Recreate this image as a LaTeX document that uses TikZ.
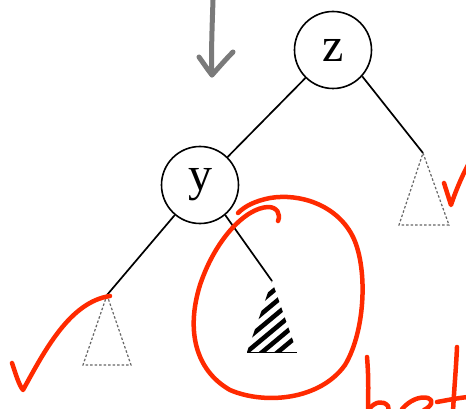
\documentclass[tikz,border=0pt]{standalone}
\usepackage{fontspec}
\setmainfont{Liberation Serif}
\definecolor{inkred}{HTML}{FF2A00}
\definecolor{pengray}{HTML}{7A7A7A}
\begin{document}
\begin{tikzpicture}[x=1pt,y=-1pt,
  treenode/.style={circle,draw=black,line width=1.6pt,minimum size=77pt,inner sep=0pt,
    font=\fontsize{48}{48}\selectfont},
  edge/.style={draw=black,line width=1.7pt},
  emptytree/.style={draw=black!60,line width=1.2pt,dash pattern=on 2.5pt off 2pt},
  redink/.style={draw=inkred,line width=4.5pt,line cap=round,line join=round},
  grayink/.style={draw=pengray,line width=5pt,line cap=round,line join=round}]
\useasboundingbox (0,0) rectangle (466,409);
\clip (0,0) rectangle (466,409);

% tree nodes
\node[treenode] (z) at (333,50) {z};
\node[treenode] (y) at (200,185) {y\vphantom{z}};

% subtree apexes
\coordinate (ra) at (423,153);
\coordinate (la) at (107,295);
\coordinate (ma) at (272,281);

% edges
\draw[edge] (z) -- (y);
\draw[edge] (z.-42) -- (ra);
\draw[edge] (y.-130) -- (la);
\draw[edge] (y.-50) -- (ma);

% empty subtrees
\draw[emptytree] (ra) -- (449,225) -- (399,225) -- cycle;
\draw[emptytree] (la) -- (131,365) -- (83,365) -- cycle;

% hatched subtree
\begin{scope}
  \clip (ma) -- (297,352) -- (247,352) -- cycle;
  \fill[white] (240,270) rectangle (300,360);
  \foreach \k in {0,...,9}{
    \draw[black,line width=4.6pt] (200,{300+\k*13}) -- (320,{200+\k*13});
  }
\end{scope}
\draw[black,line width=0.8pt] (247,352) -- (297,352);

% gray arrow
\draw[grayink] (213,0) .. controls (212,30) and (211,55) .. (212,75);
\draw[grayink] (199,57) .. controls (204,64) and (208,70) .. (212,75)
  .. controls (220,66) and (227,58) .. (233,52);

% red annotations
\draw[redink] (278,221) .. controls (281,214) and (277,207) .. (268,207)
  .. controls (245,208) and (215,240) .. (200,285)
  .. controls (186,330) and (195,370) .. (230,390)
  .. controls (265,405) and (320,400) .. (345,365)
  .. controls (366,330) and (368,265) .. (352,235)
  .. controls (336,205) and (300,193) .. (270,198)
  .. controls (255,201) and (245,206) .. (238,213);
\draw[redink] (12,363) .. controls (16,375) and (19,385) .. (23,390)
  .. controls (45,350) and (70,302) .. (110,296);
\draw[redink] (444,183) -- (451,205) .. controls (455,193) and (461,178) .. (468,165);
% handwritten word, cut by the lower edge
\draw[redink] (367,357) .. controls (369,380) and (368,398) .. (368,412);
\draw[redink] (370,408) .. controls (375,402) and (383,400) .. (388,406) -- (389,412);
\draw[redink] (402,409) .. controls (410,400) and (420,396) .. (428,398)
  .. controls (434,400) and (432,406) .. (424,410);
\draw[redink] (457,347) .. controls (456,370) and (454,390) .. (453,412);
\draw[redink] (437,402) .. controls (448,400) and (458,398) .. (468,397);
\end{tikzpicture}
\end{document}
